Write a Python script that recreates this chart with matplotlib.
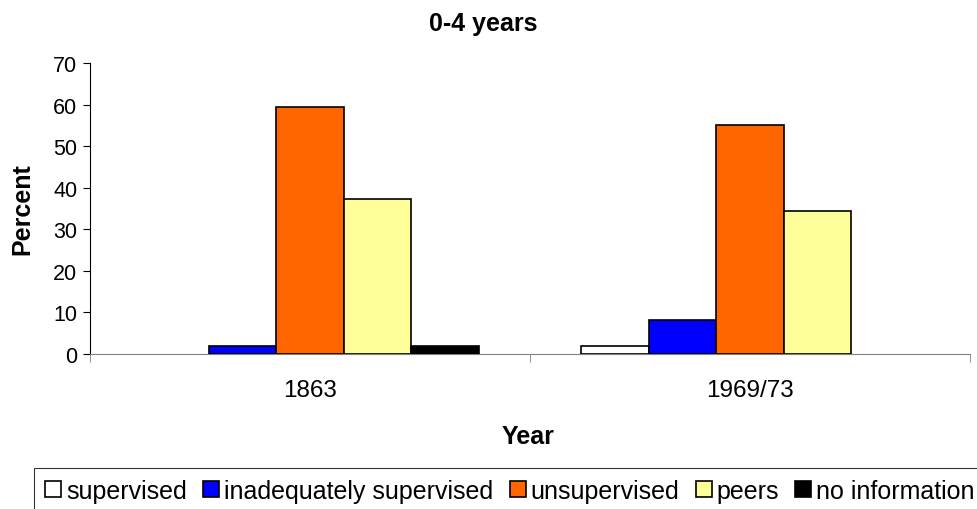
import numpy as np
import matplotlib.pyplot as plt

plt.rcParams['font.family'] = ['Liberation Sans', 'DejaVu Sans']

years = ["1863", "1969/73"]
groups = ["supervised", "inadequately supervised", "unsupervised", "peers", "no information"]
colors = ["#ffffff", "#0000ff", "#ff6600", "#ffff99", "#000000"]

supervised = [0, 1.9]
inadequately = [2.0, 8.2]
unsupervised = [59.4, 55.1]
peers = [37.3, 34.4]
no_info = [2.0, 0]

series = [supervised, inadequately, unsupervised, peers, no_info]

fig = plt.figure(figsize=(9.77, 5.10), dpi=100)
ax = fig.add_axes([0.0921, 0.304, 0.9007, 0.5705])

x = np.arange(len(years))
width = 0.1535
for i, vals in enumerate(series):
    # empty categories get no bar at all
    h = np.array(vals, dtype=float)
    h[h == 0] = np.nan
    ax.bar(x + (i - 2) * width, h, width, color=colors[i], edgecolor="black",
           linewidth=1.2, label=groups[i], zorder=3)

ax.set_xlim(-0.5, 1.5)
ax.set_ylim(0, 70)
ax.set_yticks(range(0, 71, 10))
ax.set_xticks(x)
ax.set_xticklabels(years, fontsize=17.5)
ax.set_xticks([-0.5, 0.5, 1.5], minor=True)
ax.tick_params(axis="x", which="major", length=0, pad=18)
ax.tick_params(axis="x", which="minor", length=6, color="#808080")
ax.tick_params(axis="y", labelsize=15.5, length=5, pad=4)

for s in ["top", "right"]:
    ax.spines[s].set_visible(False)
ax.spines["bottom"].set_color("#808080")
ax.spines["left"].set_color("black")

fig.text(483.5 / 977, 1 - 24 / 510, "0-4 years", fontsize=18, fontweight="bold",
         ha="center", va="center")
fig.text(22 / 977, 1 - 209 / 510, "Percent", fontsize=18, fontweight="bold",
         ha="center", va="center", rotation=90)
fig.text(528 / 977, 1 - 437 / 510, "Year", fontsize=18, fontweight="bold",
         ha="center", va="center")

leg = fig.legend(loc="upper left", bbox_to_anchor=(34 / 977, 1 - 468.5 / 510), ncol=5,
                 fontsize=18, frameon=True, fancybox=False, edgecolor="black",
                 handlelength=0.64, handleheight=0.64, handletextpad=0.2,
                 columnspacing=0.65, borderpad=0.45, borderaxespad=0)
leg.get_frame().set_linewidth(0.8)

fig.savefig("out.png", dpi=100)
